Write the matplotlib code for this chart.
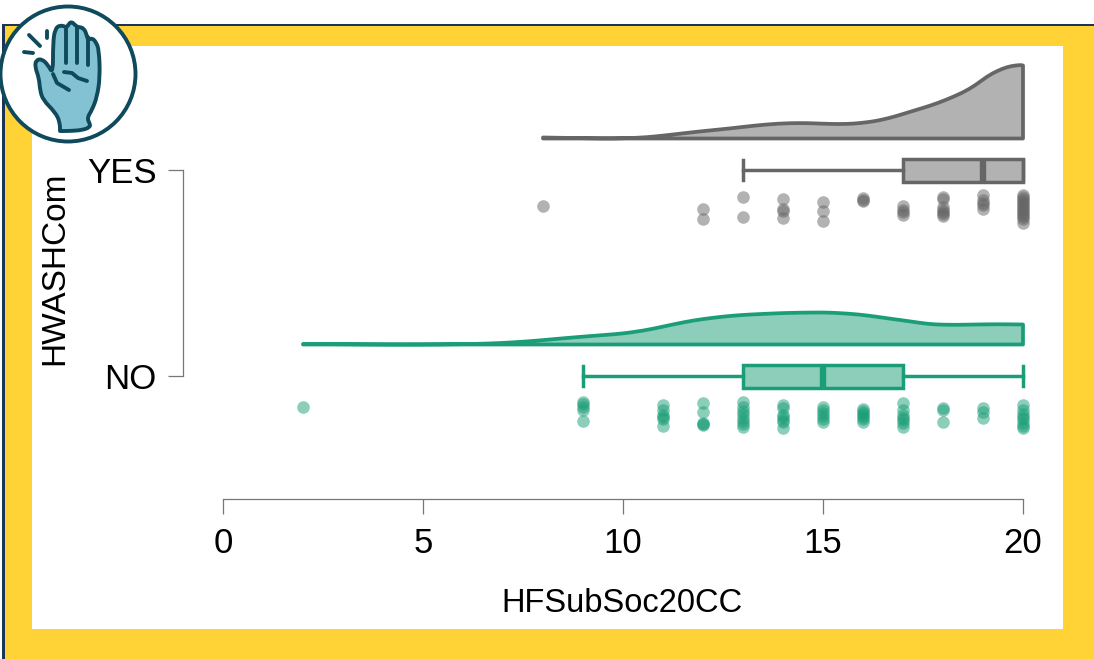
import matplotlib
matplotlib.use("Agg")
import matplotlib.pyplot as plt
from matplotlib.colors import to_rgba
from matplotlib.patches import Circle, PathPatch, Rectangle
from matplotlib.path import Path

plt.rcParams['font.family'] = ['Liberation Sans', 'DejaVu Sans']

W, H = 1094, 659

categories = ["NO", "YES"]
category_pos = [0, 206]
x_ticks = [0, 5, 10, 15, 20]
gray = "#666666"
green = "#1B9E77"

# density curves, heights read in y units above each cloud's baseline
no_dens_x = [2.0, 3.0, 4.0, 5.0, 6.0, 6.7, 7.3, 7.9, 8.5, 9.2, 9.6, 10.0, 10.5, 10.9, 11.3,
             11.75, 12.2, 12.6, 13.0, 13.4, 14.0, 14.7, 15.1, 15.5, 15.9, 16.3, 16.7, 17.2,
             17.5, 17.8, 18.3, 18.8, 19.4, 20.0]
no_dens_h = [0.5, 0.3, 0, 0, 0.3, 1, 2.2, 4, 6.2, 8.5, 9.7, 11, 13.8, 17, 20.5,
             24, 26.5, 28.3, 29.6, 30.4, 31.5, 32, 32, 31.2, 30, 28, 25.7, 23,
             21.2, 20, 19.6, 20, 20.3, 20]
yes_dens_x = [8.0, 8.6, 9.2, 9.75, 10.4, 10.8, 11.25, 11.9, 12.67, 13.3, 13.9, 14.4, 14.75,
              15.2, 15.6, 15.9, 16.25, 16.5, 16.8, 17.2, 17.7, 18.1, 18.5, 18.8, 19.1,
              19.35, 19.6, 19.8, 19.95, 20.0]
yes_dens_h = [1, 0.6, 0.2, 0, 0.7, 2, 4, 7, 10, 13, 15, 15.5, 15.2,
              14.5, 14.5, 15.3, 17, 19, 22, 27, 33, 39, 46, 53, 62,
              67.5, 71.5, 73, 73.5, 73]

# box summaries
no_box = dict(whislo=9, q1=13, med=15, q3=17, whishi=20, fliers=[])
yes_box = dict(whislo=13, q1=17, med=19, q3=20, whishi=20, fliers=[])

# raw points (value, vertical jitter below the category line)
no_pts_x = [2, 9, 9, 9, 9, 9, 11, 11, 11, 11, 11, 11, 12, 12, 12, 12, 12, 13, 13, 13, 13, 13, 13, 13, 13,
            14, 14, 14, 14, 14, 14, 14, 15, 15, 15, 15, 15, 15, 16, 16, 16, 16, 16, 16, 16,
            17, 17, 17, 17, 17, 17, 17, 18, 18, 18, 19, 19, 19, 20, 20, 20, 20, 20, 20, 20, 20]
no_pts_j = [31, 26, 28, 31, 34, 45, 29, 34, 39, 41, 43, 50, 27, 36, 47, 49, 48, 26, 31, 35, 38, 42, 45, 48, 51,
            29, 32, 39, 41, 44, 46, 52, 31, 34, 37, 40, 43, 46, 33, 35, 37, 39, 41, 43, 46,
            27, 34, 39, 42, 44, 47, 51, 32, 34, 46, 32, 36, 42, 29, 34, 38, 41, 43, 47, 50, 52]
yes_pts_x = [8, 12, 12, 13, 13, 14, 14, 14, 14, 15, 15, 15, 16, 16, 16, 17, 17, 17, 17,
             18, 18, 18, 18, 18, 18, 18, 19, 19, 19, 19, 19, 20, 20, 20, 20, 20, 20, 20, 20, 20, 20, 20, 20, 20, 20]
yes_pts_j = [36, 39, 49, 27, 47, 29, 39, 41, 48, 32, 41, 51, 28, 30, 31, 36, 40, 42, 45,
             27, 29, 37, 40, 42, 44, 46, 25, 30, 33, 35, 39, 25, 27, 29, 31, 33, 35, 37, 39, 41, 43, 45, 47, 49, 53]

# hand icon outline, read in image pixels
hand_x = [60, 60, 55, 43, 40, 39, 35, 36, 42, 48, 53, 53, 55, 60, 66, 67, 71, 76, 78, 84, 87, 88, 92, 96,
          99, 100, 97, 92, 87, 90, 90, 83, 70, 60]
hand_y = [128, 122, 112, 100, 90, 78, 67, 60, 59, 65, 74, 43, 29, 25, 27, 27, 21, 26, 27, 28, 36, 40, 38, 42,
          50, 77, 97, 110, 118, 124, 127, 130, 131, 131]
finger_lines = [([66, 66], [29, 63]), ([77, 77], [27, 63]), ([88, 88], [37, 65])]
crease_x = [64, 72, 78, 87]
crease_y = [72, 73, 78, 81]
thumb_x = [53, 57, 69]
thumb_y = [74, 83, 90]
spark_lines = [([29, 40], [35, 46]), ([47, 47], [31, 38]), ([24, 33], [52, 53])]


def smooth_verts(xs, ys):
    # quadratic segments through the midpoints of the read points
    verts = [(xs[0], ys[0])]
    codes = [Path.MOVETO]
    for i in range(1, len(xs) - 1):
        verts += [(xs[i], ys[i]), ((xs[i] + xs[i + 1]) / 2, (ys[i] + ys[i + 1]) / 2)]
        codes += [Path.CURVE3, Path.CURVE3]
    verts.append((xs[-1], ys[-1]))
    codes.append(Path.LINETO)
    return verts, codes


fig = plt.figure(figsize=(W / 100, H / 100), dpi=100, facecolor="white")

# backdrop, in pixel coordinates
bg = fig.add_axes([0, 0, 1, 1], zorder=0)
bg.set_xlim(0, W)
bg.set_ylim(H, 0)
bg.axis("off")
bg.add_patch(Rectangle((2, 24), W, H, fc="#1C3557", ec="none"))
bg.add_patch(Rectangle((5, 26), W, H, fc="#FFD335", ec="none"))
bg.add_patch(Rectangle((32, 46), 1031, 583, fc="white", ec="none"))

# main chart
ax = fig.add_axes([183 / W, (H - 499) / H, 880 / W, 453 / H], zorder=1)
ax.patch.set_alpha(0)
ax.set_xlim(-1, 21)
ax.set_ylim(-123, 330)


def draw_group(pos, dens_x, dens_h, box, pts_x, pts_j, color):
    base = pos + 31.5
    verts, codes = smooth_verts(dens_x, [base + h for h in dens_h])
    verts += [(dens_x[-1], base), (dens_x[0], base), (dens_x[0], base)]
    codes += [Path.LINETO, Path.LINETO, Path.CLOSEPOLY]
    ax.add_patch(PathPatch(Path(verts, codes), facecolor=to_rgba(color, 0.5), edgecolor=color,
                           linewidth=2.7, joinstyle="round", zorder=3))
    line = dict(color=color, linewidth=2.5)
    ax.bxp([box], positions=[pos], widths=[23], orientation="horizontal", patch_artist=True,
           manage_ticks=False, showfliers=False, capwidths=[20],
           boxprops=dict(facecolor=to_rgba(color, 0.5), edgecolor=color, linewidth=2.5),
           whiskerprops=line, capprops=line,
           medianprops=dict(color=color, linewidth=4.6, solid_capstyle="butt"))
    ax.scatter(pts_x, [pos - j for j in pts_j], s=82, color=color, alpha=0.5, linewidths=0, zorder=3)


draw_group(category_pos[0], no_dens_x, no_dens_h, no_box, no_pts_x, no_pts_j, green)
draw_group(category_pos[1], yes_dens_x, yes_dens_h, yes_box, yes_pts_x, yes_pts_j, gray)

for side in ["top", "right"]:
    ax.spines[side].set_visible(False)
for side in ["left", "bottom"]:
    ax.spines[side].set_color("#777777")
    ax.spines[side].set_linewidth(0.9)
ax.spines["bottom"].set_bounds(0, 20)
ax.spines["left"].set_bounds(category_pos[0], category_pos[1])

ax.set_xticks(x_ticks)
ax.set_yticks(category_pos)
ax.set_yticklabels(categories)
ax.tick_params(axis="both", length=11, width=0.9, color="#777777", labelsize=25, labelcolor="black")
ax.tick_params(axis="x", pad=9)
ax.tick_params(axis="y", pad=8)

ax.set_xlabel("HFSubSoc20CC", fontsize=23.5, va="center")
ax.set_ylabel("HWASHCom", fontsize=24, va="center")
ax.xaxis.set_label_coords(0.499, -0.231)
ax.yaxis.set_label_coords(-0.146, 0.509)

# hand badge, top left
icon = fig.add_axes([0, 0, 1, 1], zorder=2)
icon.patch.set_alpha(0)
icon.set_xlim(0, W)
icon.set_ylim(H, 0)
icon.axis("off")
ink = "#0E4A5C"
icon.add_patch(Circle((68, 74), 67.5, fc="white", ec=ink, lw=2.8))
hand_verts, hand_codes = smooth_verts(hand_x, hand_y)
hand_verts.append(hand_verts[0])
hand_codes.append(Path.CLOSEPOLY)
icon.add_patch(PathPatch(Path(hand_verts, hand_codes), fc="#83C2D3", ec=ink, lw=2.8, joinstyle="round"))
for xs, ys in finger_lines + spark_lines + [(crease_x, crease_y), (thumb_x, thumb_y)]:
    icon.plot(xs, ys, color=ink, lw=2.8, solid_capstyle="round")

fig.savefig("out.png", dpi=100)
